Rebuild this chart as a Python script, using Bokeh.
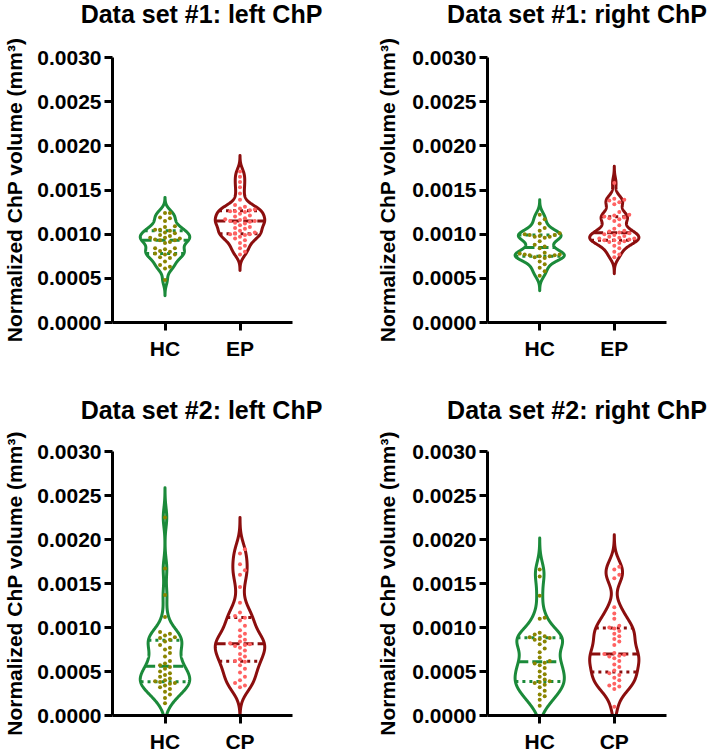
import numpy as np
from bokeh.plotting import figure
from bokeh.models import Range1d, FixedTicker, PrintfTickFormatter, Label
from bokeh.layouts import row, column
from bokeh.embed import file_html
from bokeh.resources import INLINE

# ---------------- data ----------------
titles = ["Data set #1: left ChP", "Data set #1: right ChP",
          "Data set #2: left ChP", "Data set #2: right ChP"]
categories = [["HC", "EP"], ["HC", "EP"], ["HC", "CP"], ["HC", "CP"]]
y_label = "Normalized ChP volume (mm³)"
y_ticks = [0.0, 0.0005, 0.0010, 0.0015, 0.0020, 0.0025, 0.0030]

ds1_left_hc = [0.00124, 0.00124, 0.00119, 0.00118, 0.00115, 0.00109, 0.00108, 0.00105,
               0.00105, 0.00104, 0.00102, 0.00101, 0.00099, 0.00098, 0.00096, 0.00096,
               0.00095, 0.00094, 0.00093, 0.00093, 0.00091, 0.00090, 0.00084, 0.00084,
               0.00083, 0.00081, 0.00080, 0.00078, 0.00077, 0.00077, 0.00074, 0.00073,
               0.00069, 0.00065, 0.00063, 0.00061, 0.00048]
ds1_left_ep = [0.00171, 0.00165, 0.00159, 0.00153, 0.00146, 0.00139,
               0.00133, 0.00131, 0.00129, 0.00128, 0.00127, 0.00126, 0.00126, 0.00125,
               0.00123, 0.00121, 0.00120, 0.00118, 0.00117, 0.00116, 0.00115, 0.00115,
               0.00114, 0.00113, 0.00112, 0.00110, 0.00108, 0.00107, 0.00106, 0.00104,
               0.00102, 0.00101, 0.00100, 0.00100, 0.00099, 0.00097, 0.00095, 0.00093,
               0.00090, 0.00087, 0.00084, 0.00080, 0.00077]
ds1_right_hc = [0.00122, 0.00117, 0.00112, 0.00107, 0.00104,
                0.00101, 0.00100, 0.00099, 0.00099, 0.00098, 0.00097, 0.00097, 0.00096,
                0.00092, 0.00088, 0.00086, 0.00084,
                0.00079, 0.00078, 0.00077, 0.00077, 0.00076, 0.00076, 0.00075, 0.00075,
                0.00074, 0.00073, 0.00069, 0.00066, 0.00062, 0.00058, 0.00053]
ds1_right_ep = [0.00158, 0.00140, 0.00139, 0.00138, 0.00136, 0.00134,
                0.00125, 0.00122, 0.00121, 0.00120, 0.00119, 0.00118, 0.00117, 0.00115,
                0.00110, 0.00106, 0.00104, 0.00103, 0.00102, 0.00101, 0.00100,
                0.00099, 0.00098, 0.00097, 0.00096, 0.00095, 0.00095, 0.00094, 0.00093,
                0.00093, 0.00092, 0.00091, 0.00090,
                0.00087, 0.00084, 0.00080, 0.00077, 0.00074]
ds2_left_hc = [0.00225, 0.00167, 0.00137, 0.00112,
               0.00095, 0.00093, 0.00091, 0.00089, 0.00088, 0.00086, 0.00084, 0.00080,
               0.00077, 0.00075, 0.00071, 0.00067, 0.00062, 0.00059, 0.00057, 0.00055,
               0.00053, 0.00050, 0.00048, 0.00046, 0.00044, 0.00042, 0.00040, 0.00039,
               0.00038, 0.00037, 0.00036, 0.00034, 0.00032, 0.00030, 0.00027, 0.00024,
               0.00020, 0.00014]
ds2_left_cp = [0.00189, 0.00184, 0.00172, 0.00165, 0.00160, 0.00146,
               0.00128, 0.00117, 0.00113, 0.00111, 0.00108,
               0.00102, 0.00097, 0.00093, 0.00090, 0.00086, 0.00084, 0.00082, 0.00081,
               0.00080, 0.00079, 0.00077, 0.00074, 0.00070, 0.00067, 0.00064, 0.00062,
               0.00061, 0.00057, 0.00053, 0.00049, 0.00044, 0.00040, 0.00037, 0.00034,
               0.00032]
ds2_right_hc = [0.00166, 0.00158, 0.00136, 0.00111, 0.00110,
                0.00094, 0.00092, 0.00090, 0.00089, 0.00088, 0.00087, 0.00086, 0.00084,
                0.00081, 0.00076, 0.00072, 0.00066, 0.00062, 0.00060, 0.00059, 0.00057,
                0.00054, 0.00050, 0.00047, 0.00044, 0.00041, 0.00039, 0.00038, 0.00037,
                0.00035, 0.00032, 0.00028, 0.00024, 0.00022, 0.00018, 0.00011]
ds2_right_cp = [0.00169, 0.00166, 0.00160, 0.00156, 0.00123, 0.00116, 0.00110,
                0.00102, 0.00100, 0.00099, 0.00096, 0.00093, 0.00090, 0.00087, 0.00084,
                0.00080, 0.00071, 0.00070, 0.00069, 0.00068, 0.00067, 0.00065, 0.00062,
                0.00058, 0.00055, 0.00051, 0.00048, 0.00046, 0.00043, 0.00040, 0.00036,
                0.00034, 0.00033, 0.00030, 0.00010]

panel_data = [(ds1_left_hc, ds1_left_ep), (ds1_right_hc, ds1_right_ep),
              (ds2_left_hc, ds2_left_cp), (ds2_right_hc, ds2_right_cp)]

# ---------------- styles ----------------
FONT = "Liberation Sans"
outline_colors = ["#1b8a3a", "#8b0e0e"]
dot_colors = ["#8a8400", "#ff6262"]
HALF_W = 0.33          # max half-width of a violin in x units
BW_FACTOR = 0.72       # kernel width relative to Silverman's rule
X_RANGE = (0.3, 2.7)
Y_RANGE = (0.0, 0.003)


def kde_profile(vals):
    v = np.asarray(vals, dtype=float)
    n = len(v)
    sd = v.std(ddof=1)
    q75, q25 = np.percentile(v, [75, 25])
    bw_s = 0.9 * min(sd, (q75 - q25) / 1.34) * n ** (-0.2)
    bw = BW_FACTOR * bw_s
    lo = max(v.min() - 2.2 * bw_s, 0.0)
    hi = v.max() + 2.2 * bw_s
    ys = np.linspace(lo, hi, 500)
    dens = np.exp(-0.5 * ((ys[:, None] - v[None, :]) / bw) ** 2).sum(axis=1)
    dens = dens / dens.max()
    return ys, dens


def swarm(vals, xpx, ypx, d=5.0):
    v = np.asarray(vals, dtype=float)
    offs = np.zeros(len(v))
    placed = []
    for i in np.argsort(v):
        yp = v[i] * ypx
        k = 0
        while True:
            off = ((k + 1) // 2) * d * (1 if k % 2 == 1 else -1)
            if all((off - px) ** 2 + (yp - py) ** 2 >= d * d for px, py in placed):
                break
            k += 1
        placed.append((off, yp))
        offs[i] = off / xpx
    return offs


def make_title(idx, W, H, center_x, middle_from_top):
    t = figure(width=W, height=H, x_range=Range1d(0, W), y_range=Range1d(H, 0),
               title=None, output_backend="svg", toolbar_location=None,
               x_axis_location=None, y_axis_location=None, min_border=0)
    t.outline_line_color = None
    t.xgrid.visible = False
    t.ygrid.visible = False
    t.border_fill_color = "white"
    t.background_fill_color = "white"
    t.add_layout(Label(x=center_x, y=middle_from_top, text=titles[idx],
                       text_align="center", text_baseline="middle",
                       text_font=FONT, text_font_size="25px", text_font_style="bold",
                       text_color="black"))
    return t


def make_panel(idx, W, H, mb_left, mb_right, mb_top, mb_bottom, label_standoff):
    frame_w = W - mb_left - mb_right
    frame_h = H - mb_top - mb_bottom
    p = figure(width=W, height=H, x_range=Range1d(*X_RANGE), y_range=Range1d(*Y_RANGE),
               title=None, output_backend="svg", toolbar_location=None,
               min_border_left=mb_left, min_border_right=mb_right,
               min_border_top=mb_top, min_border_bottom=mb_bottom)
    p.outline_line_color = None
    p.xgrid.visible = False
    p.ygrid.visible = False
    p.background_fill_color = "white"
    p.border_fill_color = "white"

    for ax in (p.xaxis[0], p.yaxis[0]):
        ax.axis_line_width = 3
        ax.axis_line_color = "black"
        ax.major_tick_line_width = 3
        ax.major_tick_line_color = "black"
        ax.major_tick_out = 8
        ax.major_tick_in = 0
        ax.minor_tick_out = 0
        ax.minor_tick_in = 0
        ax.major_label_text_font = FONT
        ax.major_label_text_font_size = "21px"
        ax.major_label_text_font_style = "bold"
        ax.major_label_text_color = "black"
    p.yaxis.major_label_standoff = 3
    p.xaxis.major_label_standoff = 6
    p.yaxis.ticker = FixedTicker(ticks=y_ticks)
    p.yaxis.formatter = PrintfTickFormatter(format="%.4f")
    p.yaxis.axis_label = y_label
    p.yaxis.axis_label_text_font = FONT
    p.yaxis.axis_label_text_font_size = "21px"
    p.yaxis.axis_label_text_font_style = "bold"
    p.yaxis.axis_label_text_color = "black"
    p.yaxis.axis_label_standoff = label_standoff
    p.xaxis.ticker = FixedTicker(ticks=[1, 2])
    p.xaxis.major_label_overrides = {1: categories[idx][0], 2: categories[idx][1]}

    xpx = frame_w / (X_RANGE[1] - X_RANGE[0])
    ypx = frame_h / (Y_RANGE[1] - Y_RANGE[0])
    for g, vals in enumerate(panel_data[idx]):
        c = g + 1
        col = outline_colors[g]
        ys, dens = kde_profile(vals)
        hw = dens * HALF_W
        xs_out = np.concatenate([[c], c + hw, [c], (c - hw)[::-1], [c]])
        ys_out = np.concatenate([[ys[0]], ys, [ys[-1]], ys[::-1], [ys[0]]])
        p.patch(xs_out, ys_out, fill_alpha=0, line_color=col, line_width=3,
                line_join="round")
        q1, med, q3 = np.percentile(vals, [25, 50, 75])
        for q, dash in ((q1, "3 4"), (q3, "3 4"), (med, "10 4")):
            w = np.interp(q, ys, hw)
            p.segment(x0=[c - w], y0=[q], x1=[c + w], y1=[q], line_color=col,
                      line_width=3, line_dash=dash)
        offs = swarm(vals, xpx, ypx)
        p.scatter(x=c + offs, y=vals, size=4, fill_color=dot_colors[g], line_color=None)
    return p


# page has no margin: figures placed at the reference's own pixel positions
# title strips (centred over each plot frame); y measured from the strip's top
t1 = make_title(0, 354, 33, 110 + 182 / 2, 13)
t2 = make_title(1, 355, 33, 133 + 179 / 2, 13)
t3 = make_title(2, 354, 50, 110 + 182 / 2, 32)
t4 = make_title(3, 355, 50, 133 + 179 / 2, 32)
# plots: width, height, left, right, top, bottom borders
p1 = make_panel(0, 354, 344, 110, 62, 24, 53, 8)
p2 = make_panel(1, 355, 344, 133, 43, 22, 55, 10)
p3 = make_panel(2, 354, 328, 110, 62, 24, 36, 8)
p4 = make_panel(3, 355, 328, 133, 43, 23, 37, 10)

layout = column(row(t1, t2), row(p1, p2), row(t3, t4), row(p3, p4))
open("out.html", "w").write(file_html(layout, INLINE))
